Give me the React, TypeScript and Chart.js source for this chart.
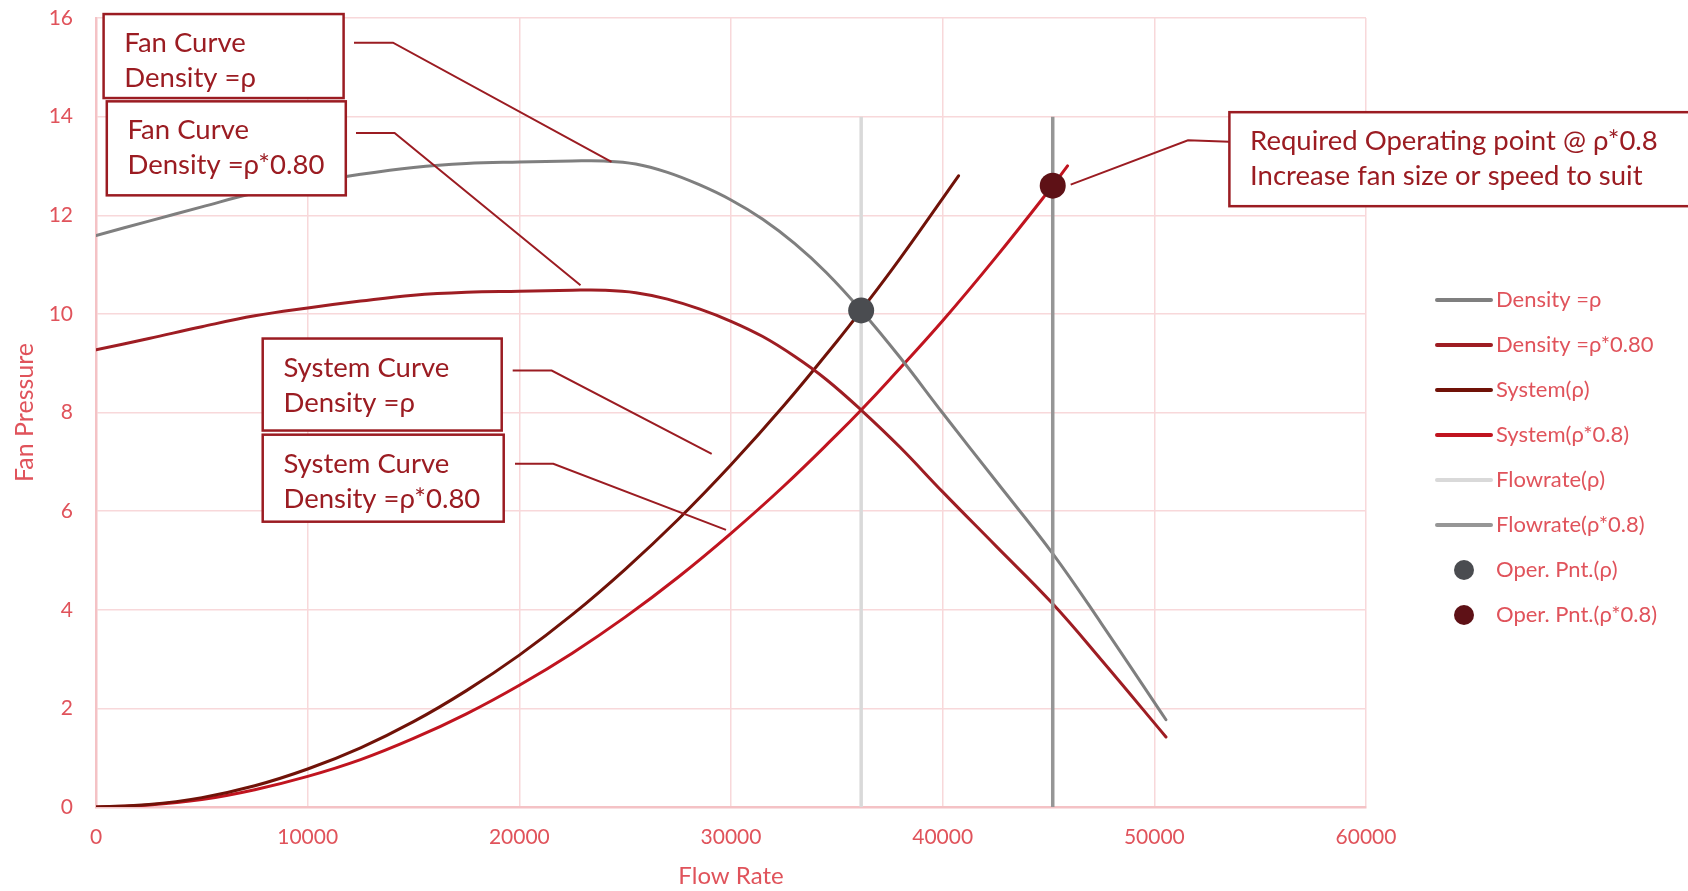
import { useEffect, useRef } from 'react';
import { Chart, registerables } from 'chart.js';

Chart.register(...registerables);

// ---------- data ----------
const fanX = [0, 2500, 5000, 7500, 10000, 12500, 15000, 17500, 20000, 22500, 24000, 25500, 27000, 28500, 30000, 31500, 33000, 34500, 36150, 38000, 40000, 42500, 45200, 47500, 50550];
const fanRho = [11.59, 11.88, 12.17, 12.45, 12.65, 12.83, 12.97, 13.05, 13.08, 13.1, 13.1, 13.04, 12.87, 12.62, 12.31, 11.92, 11.43, 10.84, 10.07, 9.11, 7.99, 6.62, 5.14, 3.72, 1.77];
const fanRho08 = [9.27, 9.5, 9.74, 9.96, 10.12, 10.26, 10.38, 10.44, 10.46, 10.48, 10.48, 10.43, 10.3, 10.1, 9.85, 9.54, 9.14, 8.67, 8.05, 7.29, 6.39, 5.3, 4.12, 2.98, 1.42];

const sysRhoX = [0, 2500, 5000, 7500, 10000, 12500, 15000, 17500, 20000, 22500, 25000, 27500, 30000, 32500, 35000, 36150, 38000, 40750];
const sysRho = [0, 0.05, 0.19, 0.43, 0.77, 1.2, 1.73, 2.36, 3.08, 3.9, 4.82, 5.83, 6.94, 8.14, 9.44, 10.07, 11.13, 12.8];

const sysRho08X = [0, 2500, 5000, 7500, 10000, 12500, 15000, 17500, 20000, 22500, 25000, 27500, 30000, 32500, 35000, 36150, 37500, 40000, 42500, 45200, 45900];
const sysRho08 = [0, 0.04, 0.15, 0.35, 0.62, 0.96, 1.39, 1.89, 2.47, 3.12, 3.85, 4.66, 5.55, 6.51, 7.55, 8.05, 8.67, 9.86, 11.14, 12.6, 13.0];

const flowRhoX = [36150, 36150];
const flowRho08X = [45200, 45200];
const flowY = [0, 14];

const operRho = { x: 36150, y: 10.07 };
const operRho08 = { x: 45200, y: 12.6 };

const seriesLabels = ['Density =ρ', 'Density =ρ*0.80', 'System(ρ)', 'System(ρ*0.8)', 'Flowrate(ρ)', 'Flowrate(ρ*0.8)', 'Oper. Pnt.(ρ)', 'Oper. Pnt.(ρ*0.8)'];
const xTicks = [0, 10000, 20000, 30000, 40000, 50000, 60000];
const yTicks = [0, 2, 4, 6, 8, 10, 12, 14, 16];

// annotation callouts (text + anchor in data units)
const calloutText = [
  ['Fan Curve', 'Density =ρ'],
  ['Fan Curve', 'Density =ρ*0.80'],
  ['System Curve', 'Density =ρ'],
  ['System Curve', 'Density =ρ*0.80'],
  ['Required Operating point @ ρ*0.8', 'Increase fan size or speed to suit'],
];
const calloutBox = [
  { x: 359, y: 16.08, w: 240, h: 84 },
  { x: 510, y: 14.31, w: 239, h: 94 },
  { x: 7876, y: 9.5, w: 239, h: 92 },
  { x: 7876, y: 7.55, w: 241, h: 87 },
  { x: 53546, y: 14.09, w: 480, h: 94 },
];
const calloutLeader = [
  [[12189, 15.5], [14031, 15.5], [24354, 13.08]],
  [[12283, 13.67], [14107, 13.67], [22890, 10.58]],
  [[19686, 8.85], [21529, 8.85], [29088, 7.16]],
  [[19795, 6.96], [21605, 6.96], [29764, 5.62]],
  [[46048, 12.62], [51590, 13.52], [53546, 13.49]],
];

// ---------- styles ----------
const TEXT_RED = '#E0535B';
const BOX_RED = '#9B1C22';
const FONT = 'Lato, "Open Sans", sans-serif';
const colors = ['#7F7F7F', '#9E1D23', '#701208', '#C0141F', '#D9D9D9', '#969696', '#4A4C50', '#5E1116'];

const pts = (xs: number[], ys: number[]) => xs.map((x, i) => ({ x, y: ys[i] }));

const calloutPlugin = {
  id: 'callouts',
  afterDatasetsDraw(chart: any) {
    const { ctx, scales } = chart;
    const sx = scales.x, sy = scales.y;
    ctx.save();
    calloutText.forEach((lines, i) => {
      const b = calloutBox[i];
      const bx = sx.getPixelForValue(b.x);
      const by = sy.getPixelForValue(b.y);
      ctx.fillStyle = '#ffffff';
      ctx.fillRect(bx, by, b.w, b.h);
      ctx.strokeStyle = BOX_RED;
      ctx.lineWidth = 2.5;
      ctx.strokeRect(bx, by, b.w, b.h);
      ctx.fillStyle = BOX_RED;
      ctx.font = `27.5px ${FONT}`;
      ctx.textBaseline = 'alphabetic';
      ctx.textAlign = 'left';
      lines.forEach((t, j) => ctx.fillText(t, bx + 20.7, by + 38 + j * 35));
      const L = calloutLeader[i];
      ctx.beginPath();
      L.forEach((p, k) => {
        const px = sx.getPixelForValue(p[0]);
        const py = sy.getPixelForValue(p[1]);
        if (k === 0) ctx.moveTo(px, py);
        else ctx.lineTo(px, py);
      });
      ctx.lineWidth = 2;
      ctx.stroke();
    });
    ctx.restore();
  },
};

const legendPlugin = {
  id: 'customLegend',
  afterDraw(chart: any) {
    const { ctx } = chart;
    const x0 = 1437, x1 = 1491, tx = 1496, y0 = 300, step = 45;
    ctx.save();
    chart.data.datasets.forEach((ds: any, i: number) => {
      const y = y0 + i * step;
      if (ds.showLine) {
        ctx.beginPath();
        ctx.moveTo(x0, y);
        ctx.lineTo(x1, y);
        ctx.strokeStyle = ds.borderColor;
        ctx.lineWidth = 4;
        ctx.lineCap = 'round';
        ctx.stroke();
      } else {
        ctx.beginPath();
        ctx.arc((x0 + x1) / 2, y, 10, 0, Math.PI * 2);
        ctx.fillStyle = ds.backgroundColor;
        ctx.fill();
      }
      ctx.fillStyle = TEXT_RED;
      ctx.font = `22px ${FONT}`;
      ctx.textBaseline = 'middle';
      ctx.textAlign = 'left';
      ctx.fillText(ds.label, tx, y);
    });
    ctx.restore();
  },
};

export default function App() {
  const ref = useRef<HTMLCanvasElement | null>(null);

  useEffect(() => {
    document.body.style.margin = '0';
    document.body.style.overflow = 'hidden';
    const canvas = ref.current;
    if (!canvas) return;

    const lineDs = (i: number, data: any[], width = 3) => ({
      label: seriesLabels[i],
      data,
      showLine: true,
      borderColor: colors[i],
      backgroundColor: colors[i],
      borderWidth: width,
      pointRadius: 0,
      pointHoverRadius: 0,
      tension: 0.4,
      borderCapStyle: 'round' as const,
      order: 2,
    });
    const pointDs = (i: number, p: { x: number; y: number }) => ({
      label: seriesLabels[i],
      data: [p],
      showLine: false,
      borderColor: colors[i],
      backgroundColor: colors[i],
      borderWidth: 0,
      pointRadius: 13,
      pointHoverRadius: 13,
      order: 0,
    });

    const chart = new Chart(canvas, {
      type: 'scatter',
      data: {
        datasets: [
          lineDs(0, pts(fanX, fanRho)),
          lineDs(1, pts(fanX, fanRho08)),
          lineDs(2, pts(sysRhoX, sysRho)),
          lineDs(3, pts(sysRho08X, sysRho08)),
          { ...lineDs(4, pts(flowRhoX, flowY), 3.5), order: 3, borderCapStyle: 'butt' },
          { ...lineDs(5, pts(flowRho08X, flowY), 3.5), order: 1, borderCapStyle: 'butt' },
          pointDs(6, operRho),
          pointDs(7, operRho08),
        ] as any,
      },
      options: {
        responsive: false,
        animation: false,
        devicePixelRatio: 1,
        layout: { padding: { top: 18, right: 322, left: 0, bottom: 0 } },
        plugins: {
          legend: { display: false },
          tooltip: { enabled: false },
        },
        scales: {
          x: {
            type: 'linear',
            min: 0,
            max: 60000,
            afterFit: (s: any) => { s.height = 84; s.paddingLeft = 0; s.paddingRight = 0; },
            afterBuildTicks: (s: any) => { s.ticks = xTicks.map((v) => ({ value: v })); },
            ticks: {
              color: TEXT_RED,
              font: { family: FONT, size: 21 },
              padding: 18,
              callback: (v: any) => String(v),
            },
            grid: { color: '#F8D8DA', lineWidth: 1.5, drawTicks: false },
            border: { color: '#F4C2C5', width: 2.5 },
            title: {
              display: true,
              text: 'Flow Rate',
              color: TEXT_RED,
              font: { family: FONT, size: 24 },
              padding: { top: 0, bottom: 0 },
            },
          },
          y: {
            type: 'linear',
            min: 0,
            max: 16,
            afterFit: (s: any) => { s.width = 96; s.paddingTop = 0; s.paddingBottom = 0; },
            afterBuildTicks: (s: any) => { s.ticks = yTicks.map((v) => ({ value: v })); },
            ticks: {
              color: TEXT_RED,
              font: { family: FONT, size: 21 },
              padding: 23,
              callback: (v: any) => String(v),
            },
            grid: { color: '#F8D8DA', lineWidth: 1.5, drawTicks: false },
            border: { color: '#F4C2C5', width: 2.5 },
            title: {
              display: true,
              text: 'Fan Pressure',
              color: TEXT_RED,
              font: { family: FONT, size: 25 },
              padding: { top: 10, bottom: 0 },
            },
          },
        },
      },
      plugins: [calloutPlugin, legendPlugin],
    });

    return () => chart.destroy();
  }, []);

  return (
    <div style={{ width: 1688, height: 891, background: '#ffffff' }}>
      <canvas ref={ref} width={1688} height={891} style={{ display: 'block', width: 1688, height: 891 }} />
    </div>
  );
}
